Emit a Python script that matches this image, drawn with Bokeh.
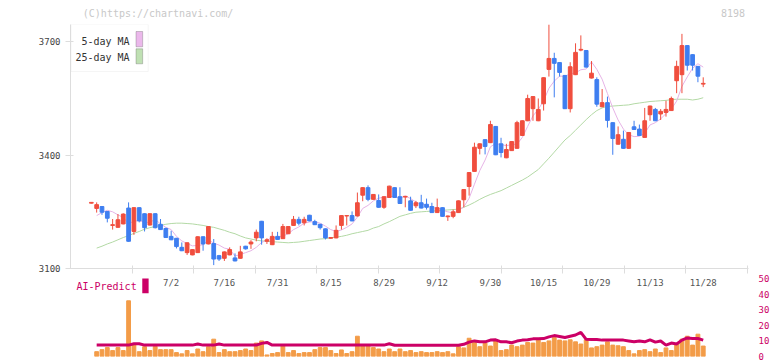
from bokeh.plotting import figure
from bokeh.layouts import column
from bokeh.models import Range1d, FixedTicker, ColumnDataSource, Label, BoxAnnotation
from bokeh.embed import file_html
from bokeh.resources import INLINE

nan = float("nan")

# ---------------- data ----------------
opens = [3273, 3259, 3264, 3251, 3214, 3209, 3218, 3260, 3198, 3261,
         3245, 3215, 3245, 3217, 3206, 3185, 3180, 3156, 3142, 3136,
         3142, 3184, 3165, 3166, 3134, 3127, 3136, 3128, 3127, 3159,
         3165, 3181, 3225, 3172, 3163, 3185, 3179, 3192, 3214, 3230,
         3221, 3241, 3224, 3217, 3205, 3180, 3181, 3214, 3239, 3240,
         3239, 3294, 3314, 3283, 3280, 3262, 3288, 3314, 3290, 3289,
         3279, 3266, 3274, 3270, 3264, 3248, 3261, 3237, 3238, 3248,
         3282, 3317, 3357, 3418, 3441, 3433, 3476, 3430, 3393, 3412,
         3418, 3452, 3491, 3523, 3491, 3536, 3627, 3656, 3645, 3611,
         3523, 3613, 3678, 3677, 3604, 3600, 3528, 3539, 3486, 3429,
         3442, 3418, 3475, 3469, 3447, 3507, 3521, 3509, 3513, 3518,
         3597, 3613, 3690, 3666, 3635, 3588]
highs = [3276, 3275, 3265, 3252, 3231, 3244, 3246, 3275, 3262, 3262,
         3246, 3246, 3246, 3231, 3208, 3200, 3181, 3169, 3169, 3151,
         3185, 3185, 3212, 3178, 3136, 3145, 3156, 3140, 3160, 3160,
         3175, 3203, 3226, 3180, 3197, 3197, 3218, 3212, 3239, 3237,
         3237, 3242, 3229, 3218, 3206, 3183, 3214, 3241, 3241, 3251,
         3301, 3315, 3320, 3297, 3296, 3291, 3319, 3315, 3315, 3292,
         3290, 3279, 3295, 3285, 3274, 3285, 3262, 3240, 3256, 3280,
         3310, 3355, 3433, 3431, 3442, 3491, 3477, 3446, 3430, 3437,
         3491, 3492, 3560, 3556, 3550, 3606, 3746, 3671, 3646, 3612,
         3646, 3696, 3717, 3678, 3649, 3606, 3575, 3555, 3487, 3476,
         3465, 3461, 3491, 3481, 3525, 3531, 3525, 3522, 3544, 3555,
         3650, 3721, 3691, 3667, 3636, 3606]
lows = [3272, 3248, 3242, 3222, 3203, 3208, 3217, 3171, 3189, 3222,
        3198, 3214, 3206, 3202, 3181, 3175, 3153, 3146, 3136, 3135,
        3141, 3147, 3164, 3109, 3120, 3120, 3135, 3119, 3126, 3150,
        3152, 3172, 3163, 3165, 3162, 3176, 3178, 3191, 3213, 3214,
        3214, 3225, 3215, 3203, 3177, 3179, 3180, 3203, 3214, 3225,
        3238, 3278, 3278, 3282, 3261, 3258, 3287, 3287, 3271, 3262,
        3253, 3260, 3259, 3256, 3247, 3247, 3237, 3226, 3233, 3247,
        3262, 3293, 3356, 3402, 3402, 3432, 3400, 3394, 3392, 3411,
        3417, 3451, 3490, 3491, 3490, 3518, 3608, 3553, 3608, 3522,
        3513, 3612, 3675, 3632, 3603, 3528, 3527, 3473, 3401, 3428,
        3417, 3417, 3467, 3451, 3446, 3491, 3490, 3493, 3502, 3517,
        3564, 3564, 3624, 3624, 3593, 3580]
closes = [3275, 3269, 3249, 3233, 3216, 3229, 3244, 3172, 3261, 3226,
          3208, 3245, 3208, 3203, 3182, 3176, 3158, 3147, 3168, 3150,
          3184, 3165, 3211, 3125, 3125, 3144, 3150, 3120, 3144, 3152,
          3170, 3196, 3181, 3176, 3185, 3177, 3211, 3211, 3230, 3220,
          3230, 3226, 3216, 3208, 3181, 3182, 3201, 3240, 3240, 3226,
          3274, 3314, 3283, 3296, 3262, 3290, 3318, 3288, 3272, 3291,
          3254, 3274, 3260, 3262, 3248, 3261, 3238, 3239, 3250, 3279,
          3309, 3354, 3421, 3430, 3423, 3481, 3401, 3407, 3415, 3436,
          3486, 3491, 3550, 3555, 3521, 3605, 3656, 3643, 3619, 3523,
          3634, 3672, 3680, 3633, 3617, 3535, 3539, 3492, 3444, 3454,
          3418, 3460, 3468, 3452, 3491, 3530, 3491, 3516, 3521, 3550,
          3635, 3690, 3638, 3638, 3609, 3590]
ma5 = [nan, 3240, 3248, 3254, 3250, 3242, 3235, 3219, 3225, 3227,
       3222, 3222, 3230, 3218, 3209, 3203, 3185, 3173, 3166, 3160,
       3161, 3163, 3176, 3167, 3162, 3154, 3151, 3133, 3137, 3142,
       3147, 3156, 3169, 3175, 3182, 3183, 3186, 3192, 3203, 3210,
       3220, 3223, 3224, 3220, 3212, 3203, 3198, 3202, 3209, 3218,
       3236, 3259, 3267, 3279, 3286, 3289, 3290, 3291, 3286, 3292,
       3285, 3276, 3270, 3268, 3260, 3261, 3254, 3250, 3247, 3253,
       3263, 3286, 3323, 3359, 3387, 3422, 3431, 3428, 3425, 3428,
       3429, 3447, 3476, 3504, 3521, 3544, 3577, 3596, 3609, 3609,
       3615, 3618, 3626, 3628, 3647, 3627, 3601, 3563, 3525, 3493,
       3469, 3454, 3449, 3450, 3458, 3480, 3486, 3496, 3510, 3522,
       3543, 3582, 3607, 3630, 3642, 3633]
ma25 = [nan, 3154, 3159, 3165, 3170, 3176, 3182, 3187, 3193, 3198,
        3204, 3208, 3211, 3214, 3217, 3219, 3220, 3220, 3219, 3218,
        3216, 3214, 3211, 3209, 3205, 3201, 3196, 3192, 3186, 3181,
        3178, 3175, 3173, 3172, 3171, 3170, 3169, 3168, 3169, 3170,
        3172, 3174, 3176, 3178, 3179, 3181, 3183, 3185, 3188, 3192,
        3195, 3198, 3201, 3207, 3211, 3218, 3224, 3231, 3238, 3242,
        3246, 3249, 3250, 3251, 3252, 3253, 3254, 3255, 3256, 3257,
        3262, 3268, 3275, 3283, 3290, 3296, 3301, 3306, 3313, 3320,
        3327, 3334, 3342, 3352, 3362, 3377, 3392, 3408, 3424, 3440,
        3452, 3466, 3480, 3494, 3507, 3518, 3525, 3529, 3530, 3531,
        3532, 3533, 3536, 3538, 3540, 3542, 3543, 3544, 3545, 3547,
        3548, 3548, 3548, 3546, 3548, 3552]
ai_bars = [nan, 3.1, 4.4, 5.7, 3.8, 5.7, 3.8, 35.7, 7.4, 3.1,
           6.3, 3.8, 6.5, 4.4, 4.4, 4.4, 2.5, 1.7, 3.8, 1.7,
           4.8, 3.1, 6.3, 11.1, 2.5, 4.4, 3.1, 3.1, 3.8, 4.8,
           3.8, 8.6, 10.0, 1.0, 1.9, 2.5, 6.9, 2.5, 3.8, 1.9,
           2.5, 2.5, 4.4, 5.7, 5.7, 3.8, 1.9, 4.2, 1.9, 3.1,
           13.0, 6.9, 6.9, 5.7, 4.8, 3.1, 4.8, 3.1, 4.8, 3.1,
           3.8, 2.5, 3.1, 2.5, 2.5, 3.1, 2.5, 3.1, 1.7, 6.3,
           5.5, 11.7, 9.0, 6.3, 8.6, 6.7, 10.0, 3.8, 4.4, 7.3,
           6.3, 7.3, 9.0, 8.6, 10.5, 9.0, 10.0, 12.2, 10.5, 10.0,
           10.7, 9.4, 8.0, 10.7, 5.5, 6.3, 7.3, 9.4, 7.3, 6.9,
           6.3, 3.8, 1.7, 3.8, 4.4, 3.1, 4.8, 2.5, 5.5, 3.8,
           8.0, 11.1, 13.0, 7.3, 14.3, 6.7]
ai_line = [nan, 7.3, 7.3, 7.3, 7.3, 7.3, 7.3, 7.3, 8.2, 8.2,
           7.3, 7.3, 7.3, 7.3, 7.3, 7.3, 7.3, 7.3, 7.3, 7.3,
           8.0, 7.3, 7.3, 7.3, 8.0, 7.3, 7.3, 7.3, 7.3, 7.3,
           7.3, 7.3, 8.4, 9.0, 7.3, 7.3, 7.3, 7.3, 7.3, 7.3,
           7.3, 7.3, 7.3, 7.3, 7.3, 7.3, 7.3, 7.3, 7.3, 7.3,
           7.3, 7.3, 7.3, 7.3, 7.3, 7.3, 8.2, 7.2, 7.2, 7.2,
           7.2, 7.2, 7.2, 7.2, 7.2, 7.2, 7.2, 7.2, 7.2, 7.2,
           7.8, 9.2, 10.0, 9.4, 9.4, 10.5, 10.7, 9.4, 9.4, 8.8,
           9.9, 10.5, 10.7, 11.3, 11.3, 11.5, 12.6, 13.4, 12.8, 12.2,
           13.0, 13.8, 15.5, 11.0, 10.9, 10.9, 10.5, 10.5, 10.5, 10.5,
           10.5, 10.0, 9.4, 10.0, 9.4, 10.7, 9.2, 9.9, 7.3, 8.6,
           8.0, 10.5, 11.9, 11.5, 11.5, 10.5]
date_labels = ["7/2", "7/16", "7/31", "8/15", "8/29", "9/12",
               "9/30", "10/15", "10/29", "11/13", "11/28"]
date_label_idx = [15, 25, 35, 45, 55, 65, 75, 85, 95, 105, 115]
price_ticks = [3100, 3400, 3700]
panel_ticks = [0, 10, 20, 30, 40, 50]

# ---------------- styling ----------------
MONO = "DejaVu Sans Mono"
UP, DOWN = "#f04e3e", "#3e7ef0"
AXIS = "#dddddd"
MAG = "#cc0066"
W = 772

# pixel geometry of the reference
FRAME_L, FRAME_R = 70, 753
X_FIRST, STEP = 91.0, 5.36          # px of first candle, px per candle
def xd(px):                          # screen px -> index units
    return (px - X_FIRST) / STEP

x = list(range(len(closes)))
colors = [UP if c >= o else DOWN for o, c in zip(opens, closes)]
src = ColumnDataSource(dict(
    x=x, high=highs, low=lows, color=colors,
    top=[max(o, c) for o, c in zip(opens, closes)],
    bottom=[min(o, c) for o, c in zip(opens, closes)],
))

# ---------------- header strip ----------------
HEAD_H = 20
p0 = figure(width=W, height=HEAD_H, x_range=Range1d(0, W), y_range=Range1d(HEAD_H, 0),
            output_backend="svg", toolbar_location=None,
            x_axis_location=None, y_axis_location=None,
            min_border_left=0, min_border_right=0, min_border_top=0, min_border_bottom=0)
p0.grid.visible = False
p0.outline_line_color = None
p0.add_layout(Label(x=14, y=12.5, text="(C)https://chartnavi.com/",
                    text_font=MONO, text_font_size="10px", text_color="#c8c8c8",
                    text_align="left", text_baseline="middle"))
p0.add_layout(Label(x=768, y=12.5, text="8198",
                    text_font=MONO, text_font_size="10px", text_color="#c8c8c8",
                    text_align="right", text_baseline="middle"))

# ---------------- price panel ----------------
xr = Range1d(xd(FRAME_L), xd(FRAME_R))
P_TOP = 3745.8
p1 = figure(width=W, height=274 - HEAD_H, x_range=xr, y_range=Range1d(3100, P_TOP),
            output_backend="svg", toolbar_location=None,
            min_border_left=FRAME_L, min_border_right=W - FRAME_R,
            min_border_top=24 - HEAD_H, min_border_bottom=6)
p1.grid.visible = False
p1.outline_line_color = None

p1.line(x, ma25, color="#b3d9a5", line_width=1)
p1.line(x, ma5, color="#e6b3e6", line_width=1)
p1.segment(x0="x", y0="low", x1="x", y1="high", color="color", line_width=1, source=src)
p1.vbar(x="x", width=0.7, top="top", bottom="bottom", fill_color="color",
        line_color="color", line_width=1, source=src)

ya = p1.yaxis[0]
ya.ticker = FixedTicker(ticks=price_ticks)
ya.axis_line_color = AXIS
ya.major_tick_line_color = AXIS
ya.minor_tick_line_color = None
ya.major_tick_in = 3
ya.major_tick_out = 5
ya.major_label_text_font = MONO
ya.major_label_text_font_size = "9px"
ya.major_label_text_color = "#444444"
ya.major_label_standoff = 5

xa = p1.xaxis[0]
tick_px = [132 + 62 * j for j in range(11)]
xa.ticker = FixedTicker(ticks=[xd(t) for t in tick_px])
xa.axis_line_color = AXIS
xa.major_tick_line_color = AXIS
xa.minor_tick_line_color = None
xa.major_tick_in = 3
xa.major_tick_out = 5
xa.major_label_text_font_size = "1px"
xa.major_label_standoff = 0
xa.major_label_overrides = {xd(t): "" for t in tick_px}

def py1(px):  # absolute screen y px -> price units in p1
    return 3100 + (268 - px) * (P_TOP - 3100) / 244.0

# legend (label left of swatch, as in the reference)
p1.add_layout(BoxAnnotation(left=xd(70.5), right=xd(148.3), top=py1(24), bottom=py1(71),
                            fill_color="white", fill_alpha=1, line_color=AXIS, line_width=1,
                            level="underlay"))
for txt, yc, sw_t, sw_b, col in [("5-day MA", 40.5, 31, 46.3, "#ebb8eb"),
                                 ("25-day MA", 57, 48.3, 63.3, "#bfe0b3")]:
    p1.add_layout(BoxAnnotation(left=xd(136), right=xd(142.7), top=py1(sw_t), bottom=py1(sw_b),
                                fill_color=col, fill_alpha=1, line_color="#555555",
                                line_width=1, level="overlay"))
    p1.add_layout(Label(x=xd(129.5), y=py1(yc), text=txt, text_font=MONO,
                        text_font_size="10px", text_color="#333333",
                        text_align="right", text_baseline="middle", level="overlay"))

# ---------------- lower panel ----------------
P2_TOP, P2_BOT = 278, 356
p2 = figure(width=W, height=361 - 274, x_range=xr, y_range=Range1d(0, 50),
            output_backend="svg", toolbar_location=None,
            x_axis_location=None, y_axis_location="right",
            min_border_left=FRAME_L, min_border_right=W - FRAME_R,
            min_border_top=P2_TOP - 274, min_border_bottom=361 - P2_BOT)
p2.grid.visible = False
p2.outline_line_color = None

p2.vbar(x=x, top=ai_bars, width=0.72, color="#f39c48")
p2.line(x, ai_line, color=MAG, line_width=3)

ra = p2.yaxis[0]
ra.ticker = FixedTicker(ticks=panel_ticks)
ra.axis_line_color = None
ra.major_tick_line_color = None
ra.minor_tick_line_color = None
ra.major_label_standoff = 4
ra.major_label_text_font = MONO
ra.major_label_text_font_size = "9px"
ra.major_label_text_color = MAG

def py2(px):
    return (P2_BOT - px) * 50.0 / (P2_BOT - P2_TOP)

for i, t in zip(date_label_idx, date_labels):
    p2.add_layout(Label(x=i, y=py2(282), text=t, text_font=MONO, text_font_size="9px",
                        text_color="#555555", text_align="center", text_baseline="middle"))
p2.add_layout(Label(x=xd(76), y=py2(286), text="AI-Predict", text_font=MONO,
                    text_font_size="10px", text_color=MAG, text_align="left",
                    text_baseline="middle"))
p2.add_layout(BoxAnnotation(left=xd(142.3), right=xd(148.7), top=py2(277.5), bottom=py2(292.7),
                            fill_color=MAG, fill_alpha=1, line_color=None))

layout = column(p0, p1, p2, styles={"position": "absolute", "left": "0px", "top": "0px"})

with open("out.html", "w") as f:
    f.write(file_html(layout, INLINE))
